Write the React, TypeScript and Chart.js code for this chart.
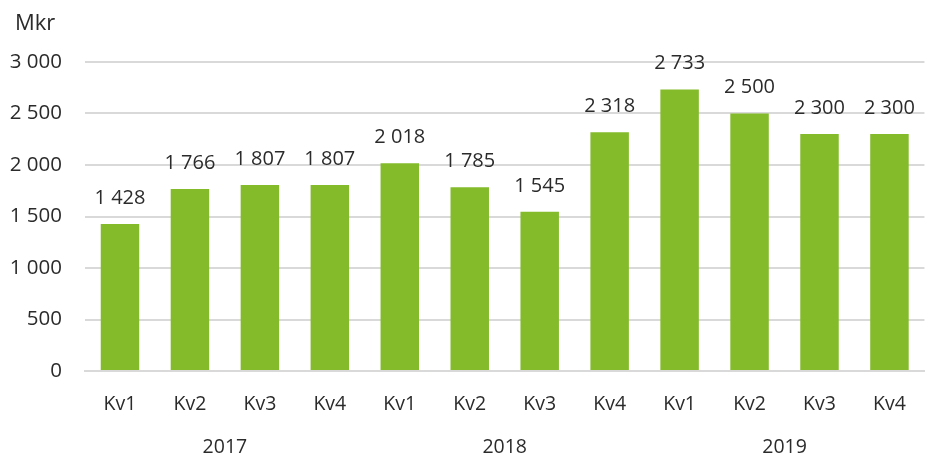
import React, { useEffect, useRef } from "react";
import { Chart, registerables } from "chart.js";

Chart.register(...registerables);

const quarters = ["Kv1", "Kv2", "Kv3", "Kv4", "Kv1", "Kv2", "Kv3", "Kv4", "Kv1", "Kv2", "Kv3", "Kv4"];
const years = ["2017", "2018", "2019"];
const values = [1428, 1766, 1807, 1807, 2018, 1785, 1545, 2318, 2733, 2500, 2300, 2300];
const unitLabel = "Mkr";

const FONT = "'Open Sans', 'Noto Sans', sans-serif";
const TEXT = "#2b2b2b";
const fmt = (v: number) => String(Math.round(v)).replace(/\B(?=(\d{3})+(?!\d))/g, " ");

const labelPlugin = {
  id: "barLabels",
  afterDatasetsDraw(chart: any) {
    const ctx = chart.ctx;
    const meta = chart.getDatasetMeta(0);
    ctx.save();
    ctx.font = `20px ${FONT}`;
    ctx.fillStyle = TEXT;
    ctx.textAlign = "center";
    ctx.textBaseline = "middle";
    meta.data.forEach((bar: any, i: number) => {
      ctx.fillText(fmt(values[i]), bar.x, bar.y - 26);
    });
    ctx.textAlign = "left";
    ctx.font = `22px ${FONT}`;
    ctx.fillText(unitLabel, 15, 24);
    ctx.restore();
  },
};

export default function App() {
  const ref = useRef<HTMLCanvasElement>(null);
  useEffect(() => {
    document.body.style.margin = "0";
    const chart = new Chart(ref.current!, {
      type: "bar",
      data: {
        labels: quarters,
        datasets: [
          {
            data: values,
            backgroundColor: "#84BB2B",
            barPercentage: 0.55,
            categoryPercentage: 1,
          },
        ],
      },
      options: {
        animation: false,
        responsive: false,
        layout: { padding: { top: 62, right: 3, left: 0, bottom: 0 } },
        plugins: { legend: { display: false }, tooltip: { enabled: false } },
        scales: {
          x: {
            type: "category",
            position: "bottom",
            grid: { display: false, drawTicks: false },
            border: { display: true, color: "#D9D9D9", width: 2 },
            ticks: { color: TEXT, font: { family: FONT, size: 19.5 }, padding: 22, maxRotation: 0, autoSkip: false },
            afterFit: (s: any) => { s.height = 44; },
          },
          year: {
            type: "category",
            position: "bottom",
            labels: years,
            offset: true,
            grid: { display: false, drawTicks: false },
            border: { display: false },
            ticks: { color: TEXT, font: { family: FONT, size: 19.5 }, padding: 21, maxRotation: 0 },
            afterFit: (s: any) => { s.height = 43; },
          },
          y: {
            min: 0,
            max: 3000,
            grid: { color: "#D9D9D9", lineWidth: 2, drawTicks: false },
            border: { display: false },
            ticks: { stepSize: 500, color: TEXT, font: { family: FONT, size: 20.5 }, padding: 23, callback: (v: any) => fmt(Number(v)) },
            afterFit: (s: any) => { s.width = 85; },
          },
        },
      },
      plugins: [labelPlugin],
    });
    return () => chart.destroy();
  }, []);
  return <canvas ref={ref} width={928} height={458} style={{ display: "block" }} />;
}
